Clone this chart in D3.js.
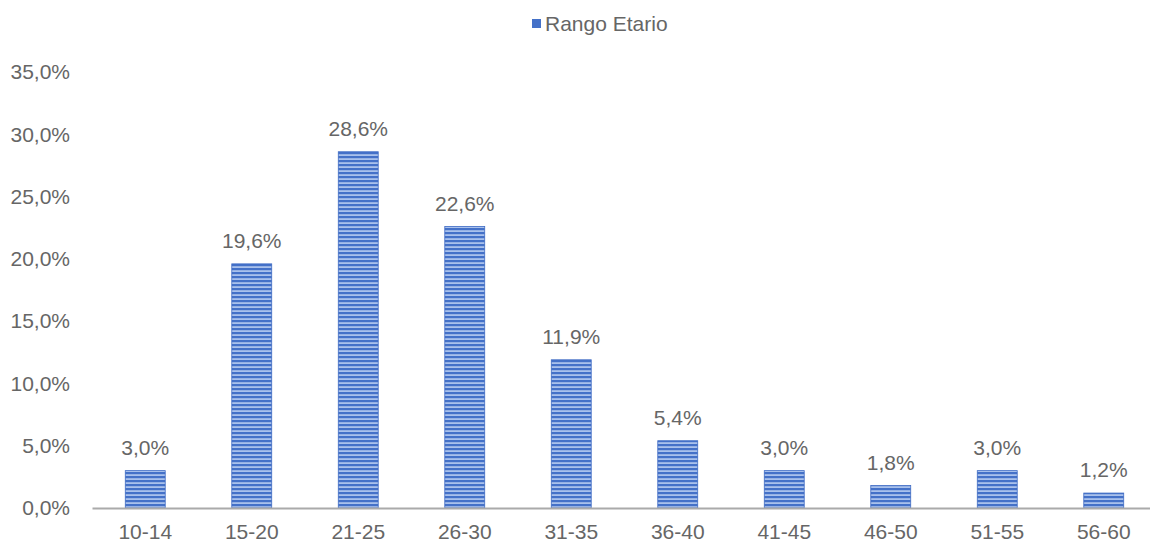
<!DOCTYPE html>
<html>
<head>
<meta charset="utf-8">
<script src="https://cdn.jsdelivr.net/npm/d3@7"></script>
<style>
  body { margin: 0; background: #fff; }
  text { font-family: "Liberation Sans", Arial, sans-serif; fill: #666; }
</style>
</head>
<body>
<svg width="1150" height="544"></svg>
<script>
var categories = ["10-14", "15-20", "21-25", "26-30", "31-35", "36-40", "41-45", "46-50", "51-55", "56-60"];
var values = [3.0, 19.6, 28.6, 22.6, 11.9, 5.4, 3.0, 1.8, 3.0, 1.2];
var yTicks = [0, 5, 10, 15, 20, 25, 30, 35];
var seriesName = "Rango Etario";

var svg = d3.select("svg"),
    margin = {top: 72, right: -7, bottom: 36, left: 92},
    width = +svg.attr("width") - margin.left - margin.right,
    height = +svg.attr("height") - margin.top - margin.bottom;

var fmt = function(v) { return v.toFixed(1).replace(".", ",") + "%"; };

// striped fill like the original bars
var defs = svg.append("defs");
var pat = defs.append("pattern")
    .attr("id", "stripes")
    .attr("patternUnits", "userSpaceOnUse")
    .attr("width", 8).attr("height", 4);
pat.append("rect").attr("width", 8).attr("height", 4).attr("fill", "#a9c1ec");
pat.append("rect").attr("y", 0).attr("width", 8).attr("height", 2.2).attr("fill", "#4471c8");

var x = d3.scaleBand().domain(categories).range([0, width]).paddingInner(0.625).paddingOuter(0.3125);
var y = d3.scaleLinear().domain([0, 35]).range([height, 0]);

var g = svg.append("g")
    .attr("transform", "translate(" + margin.left + "," + margin.top + ")");

// y labels (no axis line)
g.selectAll(".ytick")
    .data(yTicks)
  .enter().append("text")
    .attr("class", "ytick")
    .attr("x", -22)
    .attr("y", function(d) { return y(d); })
    .attr("dy", "0.35em")
    .attr("text-anchor", "end")
    .attr("font-size", "21px")
    .text(function(d) { return fmt(d); });

g.selectAll(".bar")
    .data(values)
  .enter().append("rect")
    .attr("class", "bar")
    .attr("x", function(d, i) { return x(categories[i]); })
    .attr("y", function(d) { return y(d); })
    .attr("width", x.bandwidth())
    .attr("height", function(d) { return height - y(d); })
    .attr("fill", "url(#stripes)")
    .attr("stroke", "#3f6bc4")
    .attr("stroke-width", 0.8);

g.selectAll(".lbl")
    .data(values)
  .enter().append("text")
    .attr("class", "lbl")
    .attr("x", function(d, i) { return x(categories[i]) + x.bandwidth() / 2; })
    .attr("y", function(d) { return y(d) - 23; })
    .attr("dy", "0.35em")
    .attr("text-anchor", "middle")
    .attr("font-size", "21px")
    .text(function(d) { return fmt(d); });

// x axis
var xAxis = g.append("g")
    .attr("transform", "translate(0," + height + ")")
    .call(d3.axisBottom(x).tickSize(0).tickPadding(16));
xAxis.select(".domain").attr("stroke", "#aaa").attr("stroke-width", 2);
xAxis.selectAll("text")
    .attr("font-size", "21px")
    .attr("font-family", "Liberation Sans, Arial, sans-serif")
    .attr("fill", "#666");

// legend
var legend = svg.append("g").attr("transform", "translate(532,19)");
legend.append("rect").attr("width", 9).attr("height", 9).attr("fill", "#4471c8");
legend.append("text")
    .attr("x", 13)
    .attr("y", 4.5)
    .attr("dy", "0.35em")
    .attr("font-size", "21px")
    .text(seriesName);
</script>
</body>
</html>
